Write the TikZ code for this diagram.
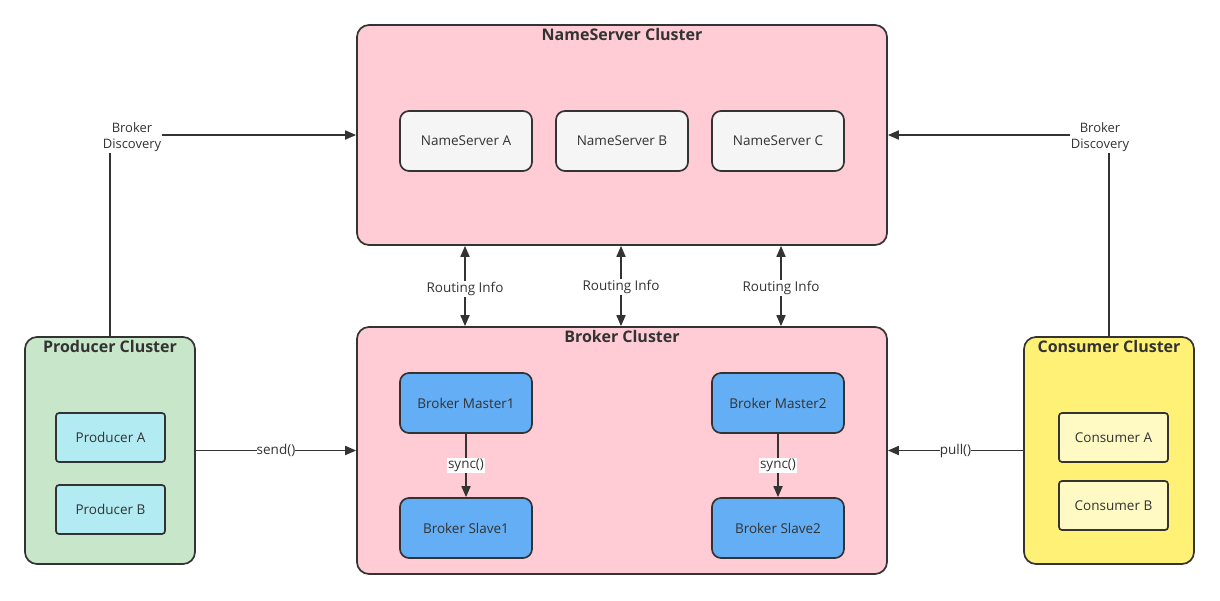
\documentclass[tikz,border=0pt]{standalone}
\usepackage{fontspec}
\setmainfont{Open Sans}
\usetikzlibrary{arrows.meta}
\definecolor{pinkfill}{HTML}{FFCCD5}
\definecolor{nsfill}{HTML}{F5F5F5}
\definecolor{bluefill}{HTML}{63AEF5}
\definecolor{greenfill}{HTML}{C8E6C9}
\definecolor{cyanfill}{HTML}{B2EBF2}
\definecolor{yellowfill}{HTML}{FFF176}
\definecolor{lightyellow}{HTML}{FFF9C4}
\definecolor{strokec}{HTML}{333333}
\definecolor{textc}{HTML}{333333}
\tikzset{
  cluster/.style={draw=strokec, line width=1.7pt, rounded corners=12pt, inner sep=0pt},
  inner/.style={draw=strokec, line width=1.7pt, rounded corners=9pt, minimum width=132pt, minimum height=60pt, inner sep=0pt, text=textc, font=\fontsize{13.5}{15}\selectfont},
  smallbox/.style={draw=strokec, line width=1.7pt, rounded corners=3pt, minimum width=109pt, minimum height=49pt, inner sep=0pt, text=textc, font=\fontsize{13.5}{15}\selectfont},
  title/.style={anchor=north, font=\bfseries\fontsize{16}{18}\selectfont, text=textc, inner sep=0pt},
  arr/.style={draw=strokec, line width=1.7pt, -{Triangle[length=11pt,width=9pt]}},
  darr/.style={draw=strokec, line width=1.7pt, {Triangle[length=11pt,width=9pt]}-{Triangle[length=11pt,width=9pt]}},
  lab/.style={fill=white, text=textc, inner sep=1pt, font=\fontsize{13.5}{15}\selectfont, align=center},
}
\begin{document}
\begin{tikzpicture}[x=1pt,y=-1pt]
\useasboundingbox (0,0) rectangle (1220,600);
% clusters
\node[cluster, fill=pinkfill, minimum width=530pt, minimum height=220pt] (ns) at (622,135) {};
\node[title] (nst) at (622,28) {NameServer Cluster};
\node[cluster, fill=pinkfill, minimum width=530pt, minimum height=247pt] (bc) at (622,450.5) {};
\node[title] (bct) at (622,330) {Broker Cluster};
\node[cluster, fill=greenfill, minimum width=170pt, minimum height=227pt] (pc) at (110,450.5) {};
\node[title] (pct) at (110,340) {Producer Cluster};
\node[cluster, fill=yellowfill, minimum width=170pt, minimum height=227pt] (cc) at (1109,450.5) {};
\node[title] (cct) at (1109,340) {Consumer Cluster};
% nameservers
\node[inner, fill=nsfill] (nsA) at (466,141) {NameServer A};
\node[inner, fill=nsfill] (nsB) at (622,141) {NameServer B};
\node[inner, fill=nsfill] (nsC) at (778,141) {NameServer C};
% brokers
\node[inner, fill=bluefill] (bm1) at (466,403) {Broker Master1};
\node[inner, fill=bluefill] (bs1) at (466,528) {Broker Slave1};
\node[inner, fill=bluefill] (bm2) at (778,403) {Broker Master2};
\node[inner, fill=bluefill] (bs2) at (778,528) {Broker Slave2};
% producers / consumers
\node[smallbox, fill=cyanfill] (pA) at (110.5,437.5) {Producer A};
\node[smallbox, fill=cyanfill] (pB) at (110.5,509.5) {Producer B};
\node[smallbox, fill=lightyellow] (cA) at (1113.5,437.5) {Consumer A};
\node[smallbox, fill=lightyellow] (cB) at (1113.5,505.5) {Consumer B};
% connectors
\draw[arr] (bm1) -- node[lab] {sync()} (bs1);
\draw[arr] (bm2) -- node[lab] {sync()} (bs2);
\draw[darr] ([xshift=-1pt]nsA.center |- ns.south) -- node[lab, yshift=-3pt] {Routing Info} ([xshift=-1pt]nsA.center |- bc.north);
\draw[darr] ([xshift=-1pt]nsB.center |- ns.south) -- node[lab, yshift=-1pt] {Routing Info} ([xshift=-1pt]nsB.center |- bc.north);
\draw[darr] ([xshift=3pt]nsC.center |- ns.south) -- node[lab, yshift=-2pt] {Routing Info} ([xshift=3pt]nsC.center |- bc.north);
\draw[arr] (pc.east |- bc.west) -- node[lab, inner sep=0pt] {send()} (bc.west);
\draw[arr] (cc.west |- bc.east) -- node[lab, inner sep=0pt] {pull()} (bc.east);
\draw[arr] (pc.north) |- (ns.west);
\draw[arr] (cc.north) |- (ns.east);
\node[lab, font=\fontsize{13}{16}\selectfont] (bdl) at (132,137) {Broker\\Discovery};
\node[lab, font=\fontsize{13}{16}\selectfont] (bdr) at (1100,137) {Broker\\Discovery};
\end{tikzpicture}
\end{document}
